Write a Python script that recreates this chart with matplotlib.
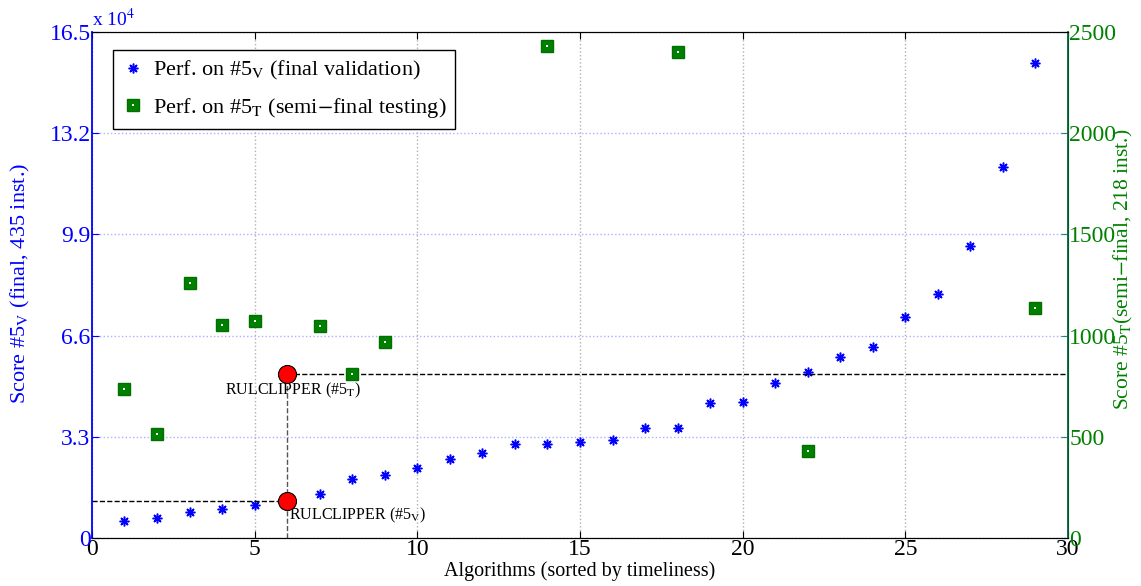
import matplotlib
matplotlib.use("Agg")
import matplotlib.pyplot as plt

plt.rcParams["font.family"] = ["Liberation Serif", "DejaVu Serif"]
plt.rcParams["mathtext.fontset"] = "stix"

# blue: score on #5_V (final validation), per algorithm 1..29
alg_v = list(range(1, 30))
score_v = [5500, 6500, 8500, 9450, 10760, 12060, 14350, 19240, 20540, 22830,
           25760, 27700, 30650, 30650, 31300, 31960, 35870, 35870, 44020, 44350,
           50540, 54130, 59020, 62280, 72070, 79570, 95220, 121000, 154900]

# green: score on #5_T (semi-final testing)
alg_t = [1, 2, 3, 4, 5, 6, 7, 8, 9, 14, 18, 22, 29]
score_t = [736, 514, 1260, 1052, 1072, 810, 1047, 810, 968, 2431, 2401, 430, 1136]

# RULCLIPPER position
rul_x = 6
rul_v = 12060
rul_t = 810

left_ticks = [0, 33000, 66000, 99000, 132000, 165000]
left_labels = ["0", "3.3", "6.6", "9.9", "13.2", "16.5"]
right_ticks = [0, 500, 1000, 1500, 2000, 2500]
x_ticks = [0, 5, 10, 15, 20, 25, 30]

blue = "#0000ff"
green = "#008000"

fig = plt.figure(figsize=(11.41, 5.86), dpi=100)
ax1 = fig.add_axes([0.0806, 0.0819, 0.8554, 0.8635])
ax2 = ax1.twinx()

ax1.set_xlim(0, 30)
ax1.set_ylim(0, 165000)
ax2.set_ylim(0, 2500)

ax1.set_xticks(x_ticks)
ax1.set_yticks(left_ticks)
ax1.set_yticklabels(left_labels)
ax2.set_yticks(right_ticks)

ax1.tick_params(axis="x", direction="in", labelsize=17, length=5, pad=1)
ax1.tick_params(axis="y", direction="in", labelsize=17, length=5, pad=1,
                colors=blue, labelcolor=blue)
ax2.tick_params(axis="y", direction="in", labelsize=17, length=5, pad=1,
                colors="#2f7f6f", labelcolor=green)
ax1.tick_params(top=True, which="both")

ax1.spines["left"].set_color(blue)
ax1.spines["left"].set_linewidth(1.3)
ax2.spines["left"].set_visible(False)
ax2.spines["right"].set_color("#006633")
ax2.spines["right"].set_linewidth(1.3)

# grid
ax1.grid(axis="y", color="#aab0ff", linestyle=":", linewidth=1)
ax1.grid(axis="x", color="#b0b0b0", linestyle=":", linewidth=1)

# blue series
l1, = ax1.plot(alg_v, score_v, linestyle="none", marker=(8, 2, 0),
               markersize=7, color=blue, markeredgewidth=1.1)

# reference lines for RULCLIPPER
ax1.plot([0, rul_x], [rul_v, rul_v], color="black", linestyle="--", linewidth=1)
ax1.plot([rul_x, rul_x], [0, rul_t / 2500 * 165000], color="#555555",
         linestyle="--", linewidth=1)
ax2.plot([rul_x, 30], [rul_t, rul_t], color="black", linestyle="--", linewidth=1)

# green series
sq, = ax2.plot(alg_t, score_t, linestyle="none", marker="s", markersize=8,
               color=green, markeredgecolor="#007000")
dot, = ax2.plot(alg_t, score_t, linestyle="none", marker="s", markersize=1.6,
                color="white", markeredgewidth=0)

# red circles
ax2.plot([rul_x], [rul_t], linestyle="none", marker="o", markersize=13,
         color="red", markeredgecolor="black", markeredgewidth=0.8, zorder=5)
ax2.plot([rul_x], [rul_v / 165000 * 2500], linestyle="none", marker="o",
         markersize=13, color="red", markeredgecolor="black",
         markeredgewidth=0.8, zorder=5)

ax2.text(4.1, 775, r"RULCLIPPER (#5$_\mathrm{T}$)", fontsize=11.5,
         ha="left", va="top")
ax2.text(6.05, 158, r"RULCLIPPER (#5$_\mathrm{V}$)", fontsize=11.5,
         ha="left", va="top")

ax1.text(0.0, 1.003, r"x 10$^4$", transform=ax1.transAxes, fontsize=14,
         color=blue, ha="left", va="bottom")

ax1.set_xlabel("Algorithms (sorted by timeliness)", fontsize=14.5)
ax1.xaxis.set_label_coords(0.5, -0.045)
ax1.set_ylabel(r"Score #5$_\mathrm{V}$ (final, 435 inst.)", fontsize=16,
               color=blue)
ax1.yaxis.set_label_coords(-0.073, 0.504)
ax1.yaxis.label.set_va("center")
ax2.set_ylabel(r"Score #5$_\mathrm{T}$(semi$-$final, 218 inst.)", fontsize=15.5,
               color=green)
ax2.yaxis.set_label_coords(1.057, 0.53)
ax2.yaxis.label.set_va("center")

leg = ax2.legend([l1, (sq, dot)],
                 [r"Perf. on #5$_\mathrm{V}$ (final validation)",
                  r"Perf. on #5$_\mathrm{T}$ (semi$-$final testing)"],
                 loc="upper left", bbox_to_anchor=(0.0215, 0.964),
                 fontsize=16, fancybox=False, framealpha=1,
                 edgecolor="black", borderpad=0.4, handlelength=1.0,
                 handletextpad=0.4, labelspacing=0.62, borderaxespad=0)
leg.get_frame().set_linewidth(1)

fig.savefig("out.png", dpi=100)
